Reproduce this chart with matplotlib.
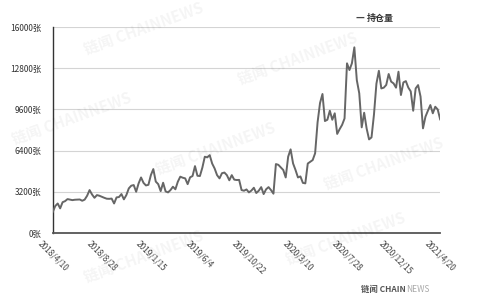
import matplotlib
matplotlib.use("Agg")
import matplotlib.pyplot as plt
from matplotlib.ticker import FixedLocator

plt.rcParams['font.family'] = ['Noto Sans CJK SC', 'DejaVu Sans']

# weekly open interest (张), 2018/4/10 .. 2021/4/20
values = [
    1650, 2100, 2300, 1920, 2400, 2480, 2640, 2600, 2560, 2590,
    2600, 2610, 2510, 2600, 2900, 3340, 3000, 2740, 2950, 2900,
    2820, 2740, 2670, 2660, 2680, 2300, 2770, 2800, 3030, 2620,
    2950, 3470, 3680, 3730, 3210, 3860, 4320, 3900, 3700, 3750,
    4500, 4970, 4000, 3800, 3260, 3910, 3240, 3160, 3340, 3600,
    3400, 3990, 4380, 4300, 4250, 3800, 4330, 4430, 5200, 4450,
    4430, 5080, 5930, 5880, 6050, 5400, 5020, 4500, 4250, 4650,
    4700, 4500, 4100, 4500, 4150, 4120, 4130, 3340, 3290, 3390,
    3160, 3300, 3520, 3110, 3290, 3570, 3030, 3400, 3570, 3340,
    3060, 5360, 5300, 5100, 4900, 4320, 5930, 6500, 5410, 4900,
    4320, 4400, 3900, 3860, 5400, 5540, 5670, 6200, 8600, 10100,
    10800, 8700, 8800, 9500, 8800, 9300, 7700, 8070, 8400, 8900,
    13180, 12660, 13180, 14420, 11880, 10850, 8210, 9345, 8130, 7275,
    7430, 9200, 11600, 12600, 11230, 11290, 11500, 12350, 11760, 11620,
    11290, 12530, 10718, 11700, 11800, 11300, 11000, 9500, 11230, 11490,
    10600, 8130, 9035, 9500, 9940, 9300, 9810, 9600, 8830,
]
tick_labels = ["2018/4/10", "2018/8/28", "2019/1/15", "2019/6/4", "2019/10/22",
               "2020/3/10", "2020/7/28", "2020/12/15", "2021/4/20"]
tick_index = [0, 20, 40, 60, 80, 100, 120, 140, 158]
y_ticks = [0, 3200, 6400, 9600, 12800, 16000]
series_name = "持仓量"

fig = plt.figure(figsize=(4.8, 3.0), dpi=100)
fig.patch.set_facecolor('white')

# faint watermarks
wm = "链闻 CHAINNEWS"
for (x, y) in [(0.30, 0.90), (0.62, 0.80), (0.15, 0.60),
               (0.45, 0.50), (0.80, 0.45), (0.30, 0.14), (0.72, 0.20)]:
    fig.text(x, y, wm, fontsize=11, color='#000000', alpha=0.045,
             rotation=20, ha='center', va='center', fontweight='bold')

ax = fig.add_axes([0.110, 0.223, 0.807, 0.687])
ax.patch.set_alpha(0)
x = list(range(len(values)))
ax.plot(x, values, color='#666666', linewidth=1.4, zorder=3)

ax.set_xlim(0, len(values) - 1)
ax.set_ylim(0, 16000)
ax.yaxis.set_major_locator(FixedLocator(y_ticks))
ax.set_yticklabels([f"{v}张" for v in y_ticks], fontsize=6, color='#333333')
ax.set_xticks(tick_index)
ax.set_xticklabels(tick_labels, fontsize=6, color='#444444', rotation=-45,
                   ha='center', va='top')
ax.tick_params(axis='both', length=0, pad=4)
ax.tick_params(axis='y', pad=8)
ax.grid(axis='y', color='#d4d4d4', linewidth=0.8)
ax.set_axisbelow(True)
for s in ['top', 'right']:
    ax.spines[s].set_visible(False)
ax.spines['left'].set_color('#333333')
ax.spines['left'].set_linewidth(1.0)
ax.spines['bottom'].set_color('#555555')
ax.spines['bottom'].set_linewidth(1.3)

# legend
fig.text(0.740, 0.94, "—", fontsize=7, color='#444444', ha='left', va='center',
         fontweight='bold')
fig.text(0.765, 0.94, series_name, fontsize=6.5, color='#333333', ha='left',
         va='center', fontweight='bold')

# bottom-right logo
fig.text(0.845, 0.035, "链闻 CHAIN", fontsize=6, color='#555555', ha='right',
         va='center', fontweight='bold')
fig.text(0.847, 0.035, "NEWS", fontsize=6, color='#aaaaaa', ha='left',
         va='center')

fig.savefig("out.png", dpi=100)
